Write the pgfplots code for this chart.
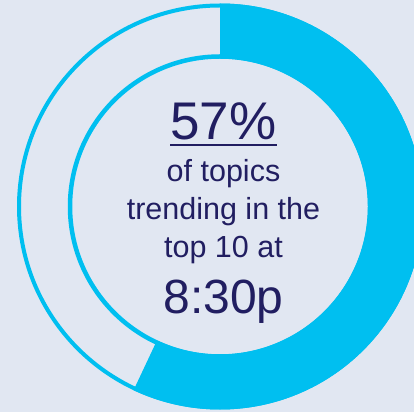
\documentclass[border=0pt]{standalone}
\usepackage{pgfplots}
\pgfplotsset{compat=1.18}
\usepackage{fontspec}
\setmainfont{Liberation Sans}
\usetikzlibrary{calc}
\definecolor{bgc}{RGB}{225,231,242}
\definecolor{ring}{RGB}{0,191,240}
\definecolor{navy}{RGB}{33,30,97}
\def\pct{57}
\begin{document}
\begin{tikzpicture}
\begin{axis}[
  x=1pt, y=1pt,
  xmin=0, xmax=414, ymin=0, ymax=412,
  hide axis, clip=true,
]
\fill[bgc] (axis cs:0,0) rectangle (axis cs:414,412);
\coordinate (sw) at (axis cs:0,0);
\coordinate (ne) at (axis cs:414,412);
\coordinate (c) at (axis cs:220,205.5);
\pgfmathsetmacro{\ea}{90-3.6*\pct}
% remaining part outlines
\draw[ring, line width=4pt] (c) circle[radius=201pt];
\draw[ring, line width=4.5pt] (c) circle[radius=150pt];
% filled share
\fill[ring] ($(c)+(90:203pt)$) arc[start angle=90, end angle=\ea, radius=203pt]
  -- ($(c)+(\ea:148pt)$) arc[start angle=\ea, end angle=90, radius=148pt] -- cycle;
% texts
\node[anchor=base, text=navy, inner sep=0pt, font=\fontsize{53}{53}\selectfont] at (axis cs:223.5,272) {57\%};
\draw[navy, line width=2pt] (axis cs:170,267) -- (axis cs:277,267);
\node[anchor=base, text=navy, inner sep=0pt, font=\fontsize{30.5}{30.5}\selectfont] at (axis cs:223.5,230) {of topics};
\node[anchor=base, text=navy, inner sep=0pt, font=\fontsize{30.5}{30.5}\selectfont] at (axis cs:223.5,192) {trending in the};
\node[anchor=base, text=navy, inner sep=0pt, font=\fontsize{30.5}{30.5}\selectfont] at (axis cs:223.5,154) {top 10 at};
\node[anchor=base, text=navy, inner sep=0pt, font=\fontsize{48}{48}\selectfont] at (axis cs:223.5,99) {8:30p};
\end{axis}
\pgfresetboundingbox
\path[use as bounding box] (sw) rectangle (ne);
\end{tikzpicture}
\end{document}
